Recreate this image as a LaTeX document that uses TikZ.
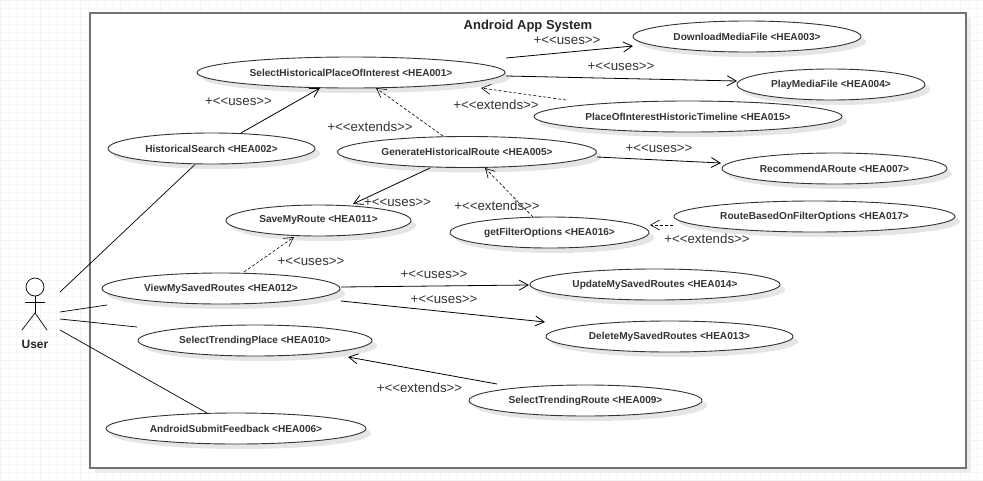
\documentclass[tikz,border=0pt]{standalone}
\usepackage{fontspec}
\setmainfont{Liberation Sans}
\usetikzlibrary{arrows.meta,shapes.geometric,shadows}
\newcommand*\usesText{+<\kern0pt<uses>\kern0pt>}
\newcommand*\extendsText{+<\kern0pt<extends>\kern0pt>}
\definecolor{borderdark}{gray}{0.2}
\tikzset{
    usecase/.style = {draw=borderdark,ellipse,fill=white,line width=0.9pt,
                    minimum height=31pt, inner sep=0pt, outer sep=0pt,
                    font=\fontsize{10.1}{12}\selectfont\bfseries,text=black!80,
                    drop shadow={shadow xshift=5pt,shadow yshift=-5pt,fill=black!10,opacity=1}},
    steplabel/.style = {font=\fontsize{13.3}{15}\selectfont,text=black!80,inner sep=0pt},
    assoc/.style = {draw=black,line width=0.8pt},
    usesline/.style = {assoc,-{Straight Barb[length=9pt,width=10pt]}},
    extendsline/.style = {assoc,line width=0.6pt,dash pattern=on 3pt off 2pt,-{Straight Barb[length=9pt,width=10pt]}},
    actorline/.style = {draw=black,line width=0.7pt},
}
\begin{document}
\begin{tikzpicture}[x=1pt,y=-1pt]
    \useasboundingbox (0,0) rectangle (983,480);

    % faint canvas grid behind the system box
    \draw[black!3,step=8pt] (0,0) grid (983,480);
    \draw[black!5,step=40pt] (0,0) grid (983,480);

    % system boundary and its title
    \node[draw=black!55,line width=2pt,fill=white,minimum width=876pt,minimum height=455pt,
          inner sep=0pt,drop shadow={shadow xshift=5pt,shadow yshift=-5pt,fill=black!7,opacity=1}]
        (system) at (528,240.5) {};
    \node[font=\fontsize{13}{15}\selectfont\bfseries,text=black!85,inner sep=0pt] (title) at (528,26.5) {Android App System};

    % the use cases: name / centre x / centre y / width / text
    \foreach \n/\x/\y/\w/\t in {
        hea001/351/72.5/308/SelectHistoricalPlaceOfInterest <HEA001>,
        hea002/211.5/148.5/207/HistoricalSearch <HEA002>,
        hea003/747/36.5/228/DownloadMediaFile <HEA003>,
        hea004/831/84.5/188/PlayMediaFile <HEA004>,
        hea005/467/152/259/GenerateHistoricalRoute <HEA005>,
        hea006/236/428.5/260/AndroidSubmitFeedback <HEA006>,
        hea007/834.5/168.5/225/RecommendARoute <HEA007>,
        hea009/585.5/400.5/233/SelectTrendingRoute <HEA009>,
        hea010/255/340.5/234/SelectTrendingPlace <HEA010>,
        hea011/318.5/220.5/185/SaveMyRoute <HEA011>,
        hea012/221/288.5/238/ViewMySavedRoutes <HEA012>,
        hea013/669.5/336.5/247/DeleteMySavedRoutes <HEA013>,
        hea014/655/284.5/250/UpdateMySavedRoutes <HEA014>,
        hea015/688/116.5/308/PlaceOfInterestHistoricTimeline <HEA015>,
        hea016/549.5/232.5/199/getFilterOptions <HEA016>,
        hea017/814.5/216.5/281/RouteBasedOnFilterOptions <HEA017>} {
        \node[usecase,minimum width=\w pt] (\n) at (\x,\y) {\t};
    }

    % the actor
    \node[inner sep=0pt,font=\fontsize{12}{14}\selectfont\bfseries,text=black!85] (user) at (35,344) {User};
    \node[draw=black,fill=white,circle,minimum size=18pt,inner sep=0pt,line width=0.7pt] (head) at (35,287) {};
    \coordinate (hip) at (35,313);
    \draw[actorline] (head.south) -- (hip);
    \draw[actorline] ([shift={(-10,15)}]head.center) -- ([shift={(10,15)}]head.center);
    \draw[actorline] ([shift={(-13,17)}]hip) -- (hip) -- ([shift={(12,17)}]hip);

    % actor associations
    \coordinate (userA) at (60,292);
    \coordinate (userB) at (60,312);
    \coordinate (userC) at (60,319);
    \coordinate (userD) at (60,330);
    \draw[actorline] (userA) -- ([shift={(-16.5,16)}]hea002.center);
    \draw[actorline] (userB) -- ([shift={(-114,16.5)}]hea012.center);
    \draw[actorline] (userC) -- ([shift={(-118,-13.5)}]hea010.center);
    \draw[actorline] (userD) -- ([shift={(-29,-15.5)}]hea006.center);

    % uses
    \draw[usesline] ([shift={(29.5,-15.5)}]hea002.center) -- ([shift={(-31,15.5)}]hea001.center);
    \draw[usesline] ([shift={(155,-14.5)}]hea001.center) -- ([shift={(-114,9.5)}]hea003.center);
    \draw[usesline] ([shift={(155,3.5)}]hea001.center) -- ([shift={(-94,-3.5)}]hea004.center);
    \draw[usesline] ([shift={(130,5)}]hea005.center) -- ([shift={(-113.5,-5.5)}]hea007.center);
    \draw[usesline] ([shift={(-37,16)}]hea005.center) -- ([shift={(34.5,-16.5)}]hea011.center);
    \draw[usesline] ([shift={(120,-1.5)}]hea012.center) -- ([shift={(-126,0.5)}]hea014.center);
    \draw[usesline] ([shift={(120,12.5)}]hea012.center) -- ([shift={(-124.5,-14.5)}]hea013.center);
    \draw[usesline] ([shift={(-88.5,-16.5)}]hea009.center) -- ([shift={(93,16.5)}]hea010.center);

    % extends
    \draw[extendsline] ([shift={(-122,-16.5)}]hea015.center) -- ([shift={(130,15.5)}]hea001.center);
    \draw[extendsline] ([shift={(-24,-16)}]hea005.center) -- ([shift={(25,15.5)}]hea001.center);
    \draw[extendsline] ([shift={(-16.5,-15.5)}]hea016.center) -- ([shift={(18,16)}]hea005.center);
    \draw[extendsline] ([shift={(-141.5,8.5)}]hea017.center) -- ([shift={(100.5,-7.5)}]hea016.center);
    \draw[extendsline] ([shift={(23,-16.5)}]hea012.center) -- ([shift={(-24.5,16.5)}]hea011.center);

    % connector labels
    \foreach \x/\y/\t [count=\i from 1] in {
        238.5/101.5/\usesText,
        567/40.5/\usesText,
        621/67/\usesText,
        659/148.5/\usesText,
        397.5/202.5/\usesText,
        311/262/\usesText,
        434/274.5/\usesText,
        444/299.5/\usesText,
        370/127/\extendsText,
        496/104.5/\extendsText,
        497/205.5/\extendsText,
        707/239/\extendsText,
        419.5/387.5/\extendsText} {
        \node[steplabel] (lbl\i) at (\x,\y) {\t};
    }
\end{tikzpicture}
\end{document}
